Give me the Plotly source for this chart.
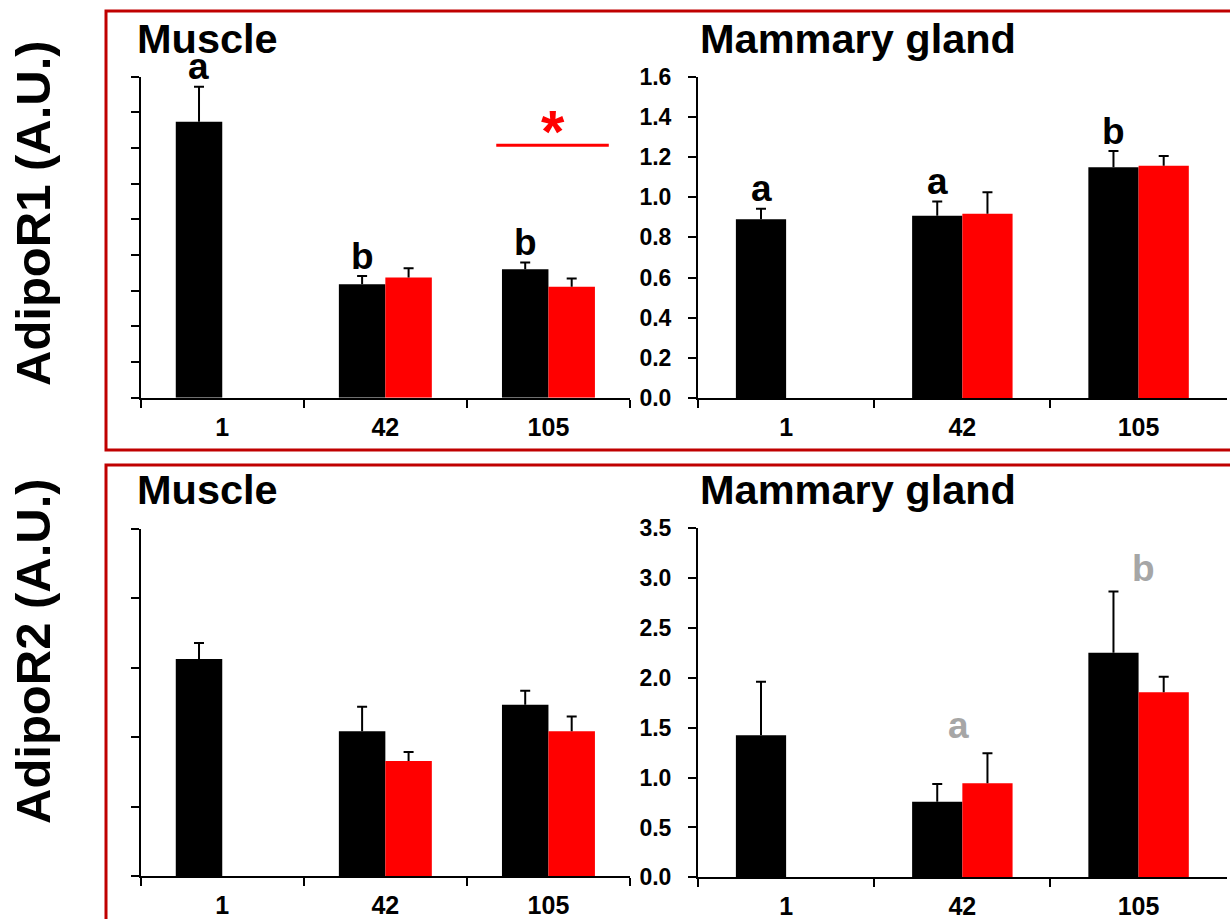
import plotly.graph_objects as go

# ---------------- data ----------------
days = ["1", "42", "105"]

# AdipoR1 - Muscle (axis without labels)
r1_mus_black = [1.548, 0.636, 0.720]
r1_mus_black_err = [0.196, 0.046, 0.038]
r1_mus_red = [None, 0.674, 0.622]
r1_mus_red_err = [0, 0.052, 0.046]

# AdipoR1 - Mammary gland
r1_mam_black = [0.890, 0.908, 1.149]
r1_mam_black_err = [0.052, 0.070, 0.081]
r1_mam_red = [None, 0.917, 1.156]
r1_mam_red_err = [0, 0.108, 0.049]

# AdipoR2 - Muscle (axis without labels)
r2_mus_black = [1.565, 1.045, 1.235]
r2_mus_black_err = [0.115, 0.175, 0.100]
r2_mus_red = [None, 0.830, 1.045]
r2_mus_red_err = [0, 0.065, 0.105]

# AdipoR2 - Mammary gland
r2_mam_black = [1.424, 0.758, 2.253]
r2_mam_black_err = [0.538, 0.178, 0.612]
r2_mam_red = [None, 0.943, 1.856]
r2_mam_red_err = [0, 0.301, 0.156]

panel_titles = ["Muscle", "Mammary gland", "Muscle", "Mammary gland"]
row_labels = ["AdipoR1 (A.U.)", "AdipoR2 (A.U.)"]

# significance letters: (panel, day, letter)
letters_black = [(1, "1", "a"), (1, "42", "b"), (1, "105", "b"),
                 (2, "1", "a"), (2, "42", "a"), (2, "105", "b")]
letters_grey = [(4, "42", "a"), (4, "105", "b")]

# ---------------- layout helpers ----------------
W, H = 1230, 919
FONT = "Arial, 'Liberation Sans', Helvetica, sans-serif"
BLACK = "#000000"
RED = "#FF0000"
BOX = "#C00000"
GREY = "#A6A6A6"
CLEAR = "rgba(0,0,0,0)"


def fx(p):
    return p / W


def fy(p):
    return 1 - p / H


panels = [
    dict(xd=(140.7, 630.0), yd=(397.7, 76.7), rng=[0, 1.8], dtick=0.2, labels=False,
         b=r1_mus_black, be=r1_mus_black_err, r=r1_mus_red, re=r1_mus_red_err),
    dict(xd=(698.0, 1226.7), yd=(398.0, 76.7), rng=[0, 1.6], dtick=0.2, labels=True,
         b=r1_mam_black, be=r1_mam_black_err, r=r1_mam_red, re=r1_mam_red_err),
    dict(xd=(140.7, 630.0), yd=(876.3, 529.0), rng=[0, 2.5], dtick=0.5, labels=False,
         b=r2_mus_black, be=r2_mus_black_err, r=r2_mus_red, re=r2_mus_red_err),
    dict(xd=(698.0, 1226.7), yd=(877.3, 528.3), rng=[0, 3.5], dtick=0.5, labels=True,
         b=r2_mam_black, be=r2_mam_black_err, r=r2_mam_red, re=r2_mam_red_err),
]

fig = go.Figure()
layout_axes = {}

for i, p in enumerate(panels, start=1):
    xa = "x" if i == 1 else f"x{i}"
    ya = "y" if i == 1 else f"y{i}"
    series = ((p["b"], p["be"], BLACK, "k"), (p["r"], p["re"], RED, "r"))
    for vals, errs, col, og in series:
        n = len(vals)
        tops = [None if v is None else v + e for v, e in zip(vals, errs)]
        # visible bar
        fig.add_trace(go.Bar(
            x=days, y=vals, xaxis=xa, yaxis=ya, offsetgroup=og,
            marker=dict(color=col, line=dict(width=0)),
            showlegend=False, hoverinfo="skip",
        ))
        # upper whisker (no caps)
        fig.add_trace(go.Bar(
            x=days, y=vals, xaxis=xa, yaxis=ya, offsetgroup=og,
            marker=dict(color=CLEAR, line=dict(width=0)),
            error_y=dict(type="data", array=errs, arrayminus=[0] * n,
                         symmetric=False, color=BLACK, thickness=2, width=0),
            showlegend=False, hoverinfo="skip",
        ))
        # cap at the whisker end
        fig.add_trace(go.Bar(
            x=days, y=tops, xaxis=xa, yaxis=ya, offsetgroup=og,
            marker=dict(color=CLEAR, line=dict(width=0)),
            error_y=dict(type="data", array=[0] * n, arrayminus=[0] * n,
                         symmetric=False, color=BLACK, thickness=2, width=5),
            showlegend=False, hoverinfo="skip",
        ))
    xkey = "xaxis" if i == 1 else f"xaxis{i}"
    ykey = "yaxis" if i == 1 else f"yaxis{i}"
    layout_axes[xkey] = dict(
        domain=[fx(p["xd"][0]), fx(p["xd"][1])], anchor=ya, type="category",
        automargin=False,
        showline=True, linecolor=BLACK, linewidth=2, mirror=False,
        ticks="outside", tickson="boundaries", ticklen=8, tickwidth=2, tickcolor=BLACK,
        showgrid=False, zeroline=False, ticklabelstandoff=6,
        tickfont=dict(family=FONT, size=25, color=BLACK, weight="bold"),
        range=[-0.5, 2.5], fixedrange=True,
    )
    layout_axes[ykey] = dict(
        domain=[fy(p["yd"][0]), fy(p["yd"][1])], anchor=xa,
        automargin=False,
        range=p["rng"], dtick=p["dtick"], tick0=0,
        showline=True, linecolor=BLACK, linewidth=2,
        ticks="outside", ticklen=8, tickwidth=2, tickcolor=BLACK,
        showgrid=False, zeroline=False, showticklabels=p["labels"],
        tickformat=".1f", ticklabelstandoff=12,
        tickfont=dict(family=FONT, size=23, color=BLACK, weight="bold"),
        fixedrange=True,
    )

annotations = []

# panel titles
title_pos = [(135, 38.5), (698, 38.5), (135, 489), (698, 489)]
for (tx, ty), t in zip(title_pos, panel_titles):
    annotations.append(dict(
        text=t, xref="paper", yref="paper", x=fx(tx), y=fy(ty),
        xanchor="left", yanchor="middle", showarrow=False,
        font=dict(family=FONT, size=41.5, color=BLACK, weight="bold"),
    ))

# row labels
for ly, t in zip((213, 651), row_labels):
    annotations.append(dict(
        text=t, xref="paper", yref="paper", x=fx(33), y=fy(ly),
        xanchor="center", yanchor="middle", textangle=-90, showarrow=False,
        font=dict(family=FONT, size=49, color=BLACK, weight="bold"),
    ))


def top_of(p, k, which):
    if which == "b":
        return p["b"][k] + p["be"][k]
    return p["r"][k] + p["re"][k]


bar_half = {1: 23.3, 2: 25.0, 3: 23.3, 4: 25.0}
for pi, day, let in letters_black:
    p = panels[pi - 1]
    k = days.index(day)
    xa = "x" if pi == 1 else f"x{pi}"
    ya = "y" if pi == 1 else f"y{pi}"
    annotations.append(dict(
        text=let, xref=xa, yref=ya, x=k, y=top_of(p, k, "b"),
        xshift=-bar_half[pi], yshift=20, xanchor="center", yanchor="middle",
        showarrow=False, font=dict(family=FONT, size=37, color=BLACK, weight="bold"),
    ))

grey_shift = {"42": (-4, 28), "105": (5, 23)}
for pi, day, let in letters_grey:
    p = panels[pi - 1]
    k = days.index(day)
    xa = f"x{pi}"
    ya = f"y{pi}"
    if day == "42":
        top = max(top_of(p, k, "b"), top_of(p, k, "r"))
    else:
        top = top_of(p, k, "b")
    dx, dy = grey_shift[day]
    annotations.append(dict(
        text=let, xref=xa, yref=ya, x=k, y=top, xshift=dx, yshift=dy,
        xanchor="center", yanchor="middle", showarrow=False,
        font=dict(family=FONT, size=37, color=GREY, weight="bold"),
    ))

# significance line + asterisk (muscle AdipoR1, day 105)
sig_y = 1.415
annotations.append(dict(
    text="*", xref="x", yref="y", x=2.03, y=sig_y, yshift=14,
    xanchor="center", yanchor="middle", showarrow=False,
    font=dict(family=FONT, size=60, color=RED, weight="bold"),
))

shapes = [
    dict(type="line", xref="x", yref="y", x0=1.68, x1=2.37, y0=sig_y, y1=sig_y,
         line=dict(color=RED, width=3)),
    # red frames around each row
    dict(type="rect", xref="paper", yref="paper", x0=fx(106), x1=fx(1240),
         y0=fy(450), y1=fy(11), line=dict(color=BOX, width=3), layer="below"),
    dict(type="rect", xref="paper", yref="paper", x0=fx(106), x1=fx(1240),
         y0=fy(930), y1=fy(465), line=dict(color=BOX, width=3), layer="below"),
]

fig.update_layout(
    width=W, height=H, margin=dict(l=0, r=0, t=0, b=0, pad=0, autoexpand=False),
    paper_bgcolor="white", plot_bgcolor="white",
    barmode="group", bargap=0.43, bargroupgap=0,
    annotations=annotations, shapes=shapes, showlegend=False,
    font=dict(family=FONT, color=BLACK),
    **layout_axes,
)

fig.write_html(
    "out.html",
    config={"displayModeBar": False},
    post_script=(
        "var de=document.documentElement, bd=document.body;"
        "de.style.margin='0'; bd.style.margin='0'; bd.style.padding='0';"
        "de.style.overflow='hidden'; bd.style.overflow='hidden';"
    ),
)
